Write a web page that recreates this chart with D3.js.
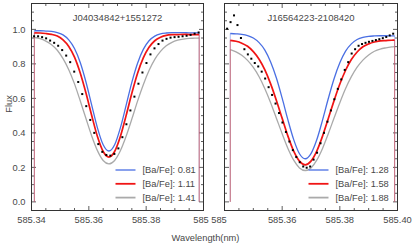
<!DOCTYPE html>
<html>
<head>
<meta charset="utf-8">
<script src="https://cdn.jsdelivr.net/npm/d3@7"></script>
<style>
  body { margin: 0; background: #fff; }
  svg { display: block; }
  text { font-family: "Liberation Sans", Arial, sans-serif; fill: #484848; }
</style>
</head>
<body>
<div id="chart"></div>
<script>
const width = 415, height = 247;

// ---- star 1 : J04034842+1551272 ----
const title1 = "J04034842+1551272";
const modelWave1 = [585.341,585.343,585.345,585.347,585.349,585.351,585.353,585.355,585.357,585.359,
  585.361,585.363,585.365,585.367,585.369,585.371,585.373,585.375,585.377,585.379,
  585.381,585.383,585.385,585.387,585.389,585.391,585.393,585.395,585.397,585.3985];
const blue1 = [0.992,0.992,0.990,0.988,0.981,0.968,0.939,0.889,0.808,0.695,0.561,0.429,0.331,0.295,0.331,
  0.429,0.559,0.693,0.804,0.884,0.934,0.961,0.974,0.979,0.981,0.981,0.981,0.980,0.980,0.980];
const red1 = [0.980,0.979,0.976,0.971,0.961,0.939,0.901,0.839,0.747,0.631,0.501,0.379,0.292,0.260,0.292,
  0.379,0.500,0.630,0.746,0.835,0.896,0.934,0.954,0.965,0.969,0.970,0.971,0.970,0.970,0.970];
const gray1 = [0.953,0.946,0.932,0.911,0.879,0.830,0.766,0.684,0.586,0.483,0.382,0.297,0.240,0.220,0.240,
  0.296,0.380,0.480,0.584,0.679,0.761,0.826,0.872,0.905,0.925,0.937,0.944,0.948,0.949,0.950];
const obsWave1 = [585.3409,585.3423,585.3437,585.3451,585.3465,585.3479,585.3493,585.3507,585.3521,585.3535,
  585.3549,585.3563,585.3577,585.3591,585.3605,585.3619,585.3633,585.3647,585.3661,585.3675,
  585.3689,585.3703,585.3717,585.3731,585.3745,585.3759,585.3773,585.3787,585.3801,585.3815,
  585.3829,585.3843,585.3857,585.3871,585.3885,585.3899,585.3913,585.3927,585.3941,585.3955,
  585.3969,585.3983];
const obsFlux1 = [0.960,0.960,0.955,0.948,0.935,0.922,0.905,0.880,0.848,0.810,
  0.755,0.695,0.625,0.555,0.475,0.400,0.335,0.290,0.272,0.268,
  0.278,0.310,0.375,0.450,0.530,0.610,0.685,0.750,0.805,0.855,
  0.890,0.915,0.935,0.945,0.952,0.955,0.957,0.960,0.963,0.968,
  0.975,0.982];
const legend1 = ["[Ba/Fe]: 0.81", "[Ba/Fe]: 1.11", "[Ba/Fe]: 1.41"];
const xLabels1 = ["585.34", "585.36", "585.38", "585"];

// ---- star 2 : J16564223-2108420 ----
const title2 = "J16564223-2108420";
const modelWave2 = [585.342,585.344,585.346,585.348,585.350,585.352,585.354,585.356,585.358,585.360,
  585.362,585.364,585.366,585.368,585.370,585.372,585.374,585.376,585.378,585.380,
  585.382,585.384,585.386,585.388,585.390,585.392,585.394,585.396,585.398,585.399];
const blue2 = [0.976,0.974,0.971,0.964,0.950,0.923,0.880,0.811,0.718,0.601,0.475,0.361,0.279,0.250,0.280,
  0.360,0.474,0.599,0.714,0.806,0.874,0.916,0.941,0.954,0.960,0.962,0.963,0.963,0.962,0.962];
const red2 = [0.936,0.931,0.920,0.902,0.871,0.827,0.765,0.684,0.588,0.484,0.381,0.294,0.236,0.215,0.236,
  0.294,0.381,0.483,0.587,0.683,0.763,0.825,0.869,0.899,0.916,0.927,0.933,0.935,0.937,0.938];
const gray2 = [0.883,0.870,0.850,0.820,0.779,0.725,0.656,0.575,0.485,0.395,0.310,0.242,0.197,0.182,0.197,
  0.242,0.310,0.395,0.486,0.575,0.657,0.726,0.781,0.822,0.852,0.873,0.886,0.893,0.898,0.900];
const obsWave2 = [585.3409,585.3421,585.3433,585.3445,585.3457,585.3469,585.3481,585.3493,585.3505,585.3517,
  585.3529,585.3541,585.3553,585.3565,585.3577,585.3589,585.3601,585.3613,585.3625,585.3637,
  585.3649,585.3661,585.3673,585.3685,585.3697,585.3709,585.3721,585.3733,585.3745,585.3757,
  585.3769,585.3781,585.3793,585.3805,585.3817,585.3829,585.3841,585.3853,585.3865,585.3877,
  585.3889,585.3901,585.3913,585.3925,585.3937,585.3949,585.3961,585.3973,585.3985];
const obsFlux2 = [1.004,1.042,1.081,1.025,0.950,0.885,0.855,0.830,0.805,0.785,
  0.755,0.715,0.665,0.620,0.570,0.515,0.460,0.405,0.350,0.300,
  0.260,0.230,0.205,0.198,0.205,0.245,0.285,0.340,0.400,0.465,
  0.530,0.595,0.655,0.710,0.765,0.810,0.860,0.885,0.905,0.915,
  0.922,0.928,0.933,0.938,0.943,0.949,0.956,0.965,0.975];
const legend2 = ["[Ba/Fe]: 1.28", "[Ba/Fe]: 1.58", "[Ba/Fe]: 1.88"];
const xLabels2 = ["585", "585.36", "585.38", "585.40"];

const xMajor = [585.34, 585.36, 585.38, 585.40];
const yLabels = ["0.0", "0.2", "0.4", "0.6", "0.8", "1.0"];

// ---- layout ----
const plotTop = 3.5, plotBottom = 210.5;
const colors = { blue: "#4a6fe3", red: "#f01414", gray: "#aaaaaa" };

const svg = d3.select("#chart").append("svg")
  .attr("width", width).attr("height", height);

const y = d3.scaleLinear().domain([-0.05, 1.15]).range([plotBottom, plotTop]);

const panels = [
  { left: 31.5, right: 203.5, title: title1, wave: modelWave1, blue: blue1, red: red1, gray: gray1,
    obsW: obsWave1, obsF: obsFlux1, legend: legend1, xLabels: xLabels1, labelDx: [0, 0, 0, -2.5], yText: true },
  { left: 224.5, right: 397.5, title: title2, wave: modelWave2, blue: blue2, red: red2, gray: gray2,
    obsW: obsWave2, obsF: obsFlux2, legend: legend2, xLabels: xLabels2, labelDx: [-5.5, 0, 0, 0], yText: false }
];

panels.forEach(p => {
  const x = d3.scaleLinear().domain([585.34, 585.40]).range([p.left, p.right]);
  const g = svg.append("g");

  // ticks (inward, all four sides)
  const xMinor = x.ticks(12);
  const yMajor = y.ticks(6);
  const yMinor = y.ticks(24).filter(v => v > -0.049 && v < 1.149);
  const tk = g.append("g").attr("stroke", "#333").attr("stroke-width", 0.8);
  xMinor.forEach(v => {
    const major = xMajor.some(m => Math.abs(m - v) < 1e-6);
    const len = major ? 4.5 : 2.5;
    tk.append("line").attr("x1", x(v)).attr("x2", x(v)).attr("y1", plotBottom).attr("y2", plotBottom - len);
    tk.append("line").attr("x1", x(v)).attr("x2", x(v)).attr("y1", plotTop).attr("y2", plotTop + len);
  });
  yMinor.forEach(v => {
    const major = yMajor.some(m => Math.abs(m - v) < 1e-6);
    const len = major ? 4.5 : 2.5;
    tk.append("line").attr("x1", p.left).attr("x2", p.left + len).attr("y1", y(v)).attr("y2", y(v));
    tk.append("line").attr("x1", p.right).attr("x2", p.right - len).attr("y1", y(v)).attr("y2", y(v));
  });

  // model curves
  const line = d3.line().x(d => x(d[0])).y(d => y(d[1])).curve(d3.curveMonotoneX);
  const series = [
    { vals: p.blue, color: colors.blue, w: 1.3 },
    { vals: p.gray, color: colors.gray, w: 1.3 },
    { vals: p.red, color: colors.red, w: 1.7 }
  ];
  series.forEach(s => {
    const pts = p.wave.map((w, i) => [w, s.vals[i]]);
    g.append("path").datum(pts).attr("d", line)
      .attr("fill", "none").attr("stroke", s.color).attr("stroke-width", s.w);
    // model spectrum drops to zero at its edges
    const ends = [pts[0], pts[pts.length - 1]];
    ends.forEach(e => {
      g.append("line").attr("x1", x(e[0])).attr("x2", x(e[0]))
        .attr("y1", y(e[1])).attr("y2", y(0))
        .attr("stroke", s.color).attr("stroke-width", 0.8).attr("opacity", 0.55);
    });
  });

  // observed points
  g.selectAll("rect.obs").data(p.obsW.map((w, i) => [w, p.obsF[i]]))
    .enter().append("rect").attr("class", "obs")
    .attr("x", d => x(d[0]) - 1).attr("y", d => y(d[1]) - 1)
    .attr("width", 2).attr("height", 2).attr("fill", "#000");

  // frame
  g.append("rect").attr("x", p.left).attr("y", plotTop)
    .attr("width", p.right - p.left).attr("height", plotBottom - plotTop)
    .attr("fill", "none").attr("stroke", "#333").attr("stroke-width", 1);

  // title
  g.append("text").attr("x", (p.left + p.right) / 2).attr("y", 21)
    .attr("text-anchor", "middle").attr("font-size", 9.5).text(p.title);

  // x tick labels
  xMajor.forEach((v, i) => {
    g.append("text").attr("x", x(v) + p.labelDx[i]).attr("y", 223)
      .attr("text-anchor", "middle").attr("font-size", 9.3).text(p.xLabels[i]);
  });

  // y tick labels
  if (p.yText) {
    yMajor.forEach((v, i) => {
      g.append("text").attr("x", p.left - 6).attr("y", y(v)).attr("dy", "0.35em")
        .attr("text-anchor", "end").attr("font-size", 9.3).text(yLabels[i]);
    });
  }

  // legend
  const legColors = [colors.blue, colors.red, colors.gray];
  const legW = [1.3, 1.8, 1.8];
  const rowY = [170, 183.8, 197.6];
  p.legend.forEach((t, i) => {
    g.append("line").attr("x1", p.left + 84).attr("x2", p.left + 104)
      .attr("y1", rowY[i]).attr("y2", rowY[i])
      .attr("stroke", legColors[i]).attr("stroke-width", legW[i]);
    g.append("text").attr("x", p.left + 111).attr("y", rowY[i]).attr("dy", "0.35em")
      .attr("font-size", 9.3).text(t);
  });
});

// axis titles
svg.append("text").attr("transform", "translate(11.5,104) rotate(-90)")
  .attr("text-anchor", "middle").attr("font-size", 9.3).text("Flux");
svg.append("text").attr("x", 205.5).attr("y", 240.5)
  .attr("text-anchor", "middle").attr("font-size", 9.3).text("Wavelength(nm)");
</script>
</body>
</html>
